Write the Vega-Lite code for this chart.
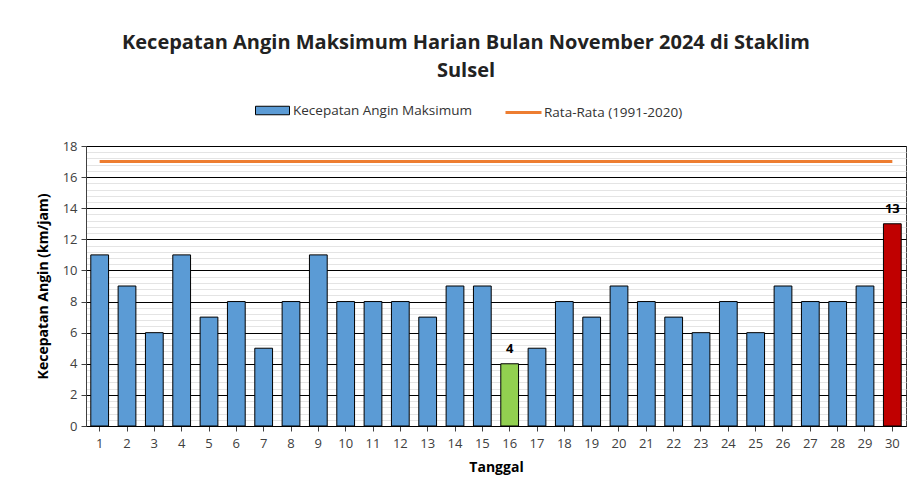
{
  "$schema": "https://vega.github.io/schema/vega-lite/v6.json",
  "width": 820,
  "height": 280,
  "autosize": {"type": "none"},
  "padding": {"left": 86, "top": 146, "right": 6, "bottom": 69},
  "background": "white",
  "config": {
    "view": {"stroke": "#404040", "strokeWidth": 1},
    "font": "Open Sans",
    "axis": {"labelFont": "Open Sans", "titleFont": "Open Sans", "labelColor": "#404040", "titleColor": "#000000"}
  },
  "title": {
    "text": ["Kecepatan Angin Maksimum Harian Bulan November 2024 di Staklim", "Sulsel"],
    "font": "Open Sans",
    "fontSize": 20,
    "fontWeight": "bold",
    "color": "#222222",
    "anchor": "middle",
    "frame": "group",
    "dx": -30,
    "lineHeight": 28,
    "offset": 12
  },
  "data": {
    "values": [
      {"Tanggal": 1, "kecepatan": 11, "rata": 17, "keterangan": "normal"},
      {"Tanggal": 2, "kecepatan": 9, "rata": 17, "keterangan": "normal"},
      {"Tanggal": 3, "kecepatan": 6, "rata": 17, "keterangan": "normal"},
      {"Tanggal": 4, "kecepatan": 11, "rata": 17, "keterangan": "normal"},
      {"Tanggal": 5, "kecepatan": 7, "rata": 17, "keterangan": "normal"},
      {"Tanggal": 6, "kecepatan": 8, "rata": 17, "keterangan": "normal"},
      {"Tanggal": 7, "kecepatan": 5, "rata": 17, "keterangan": "normal"},
      {"Tanggal": 8, "kecepatan": 8, "rata": 17, "keterangan": "normal"},
      {"Tanggal": 9, "kecepatan": 11, "rata": 17, "keterangan": "normal"},
      {"Tanggal": 10, "kecepatan": 8, "rata": 17, "keterangan": "normal"},
      {"Tanggal": 11, "kecepatan": 8, "rata": 17, "keterangan": "normal"},
      {"Tanggal": 12, "kecepatan": 8, "rata": 17, "keterangan": "normal"},
      {"Tanggal": 13, "kecepatan": 7, "rata": 17, "keterangan": "normal"},
      {"Tanggal": 14, "kecepatan": 9, "rata": 17, "keterangan": "normal"},
      {"Tanggal": 15, "kecepatan": 9, "rata": 17, "keterangan": "normal"},
      {"Tanggal": 16, "kecepatan": 4, "rata": 17, "keterangan": "terendah"},
      {"Tanggal": 17, "kecepatan": 5, "rata": 17, "keterangan": "normal"},
      {"Tanggal": 18, "kecepatan": 8, "rata": 17, "keterangan": "normal"},
      {"Tanggal": 19, "kecepatan": 7, "rata": 17, "keterangan": "normal"},
      {"Tanggal": 20, "kecepatan": 9, "rata": 17, "keterangan": "normal"},
      {"Tanggal": 21, "kecepatan": 8, "rata": 17, "keterangan": "normal"},
      {"Tanggal": 22, "kecepatan": 7, "rata": 17, "keterangan": "normal"},
      {"Tanggal": 23, "kecepatan": 6, "rata": 17, "keterangan": "normal"},
      {"Tanggal": 24, "kecepatan": 8, "rata": 17, "keterangan": "normal"},
      {"Tanggal": 25, "kecepatan": 6, "rata": 17, "keterangan": "normal"},
      {"Tanggal": 26, "kecepatan": 9, "rata": 17, "keterangan": "normal"},
      {"Tanggal": 27, "kecepatan": 8, "rata": 17, "keterangan": "normal"},
      {"Tanggal": 28, "kecepatan": 8, "rata": 17, "keterangan": "normal"},
      {"Tanggal": 29, "kecepatan": 9, "rata": 17, "keterangan": "normal"},
      {"Tanggal": 30, "kecepatan": 13, "rata": 17, "keterangan": "tertinggi"}
    ]
  },
  "encoding": {
    "x": {
      "field": "Tanggal",
      "type": "ordinal",
      "scale": {"paddingInner": 0.35, "paddingOuter": 0.175},
      "axis": {
        "title": "Tanggal",
        "titleFontSize": 14,
        "titleFontWeight": "bold",
        "titlePadding": 10,
        "labelAngle": 0,
        "labelFontSize": 13,
        "labelPadding": 6,
        "tickColor": "#404040",
        "tickSize": 5,
        "domainColor": "#000000",
        "grid": false
      }
    }
  },
  "layer": [
    {
      "mark": {"type": "bar", "stroke": "#000000", "strokeWidth": 1},
      "encoding": {
        "y": {
          "field": "kecepatan",
          "type": "quantitative",
          "scale": {"domain": [0, 18], "nice": false},
          "axis": {
            "orient": "left",
            "values": [0, 0.4, 0.8, 1.2, 1.6, 2.4, 2.8, 3.2, 3.6, 4.4, 4.8, 5.2, 5.6, 6.4, 6.8, 7.2, 7.6, 8.4, 8.8, 9.2, 9.6, 10.4, 10.8, 11.2, 11.6, 12.4, 12.8, 13.2, 13.6, 14.4, 14.8, 15.2, 15.6, 16.4, 16.8, 17.2, 17.6],
            "grid": true,
            "gridColor": "#e4e4e4",
            "gridWidth": 1,
            "labels": false,
            "ticks": false,
            "domain": false,
            "title": null
          }
        },
        "fill": {
          "condition": [
            {"test": "datum.keterangan === 'terendah'", "value": "#92D050"},
            {"test": "datum.keterangan === 'tertinggi'", "value": "#C00000"}
          ],
          "datum": "Kecepatan Angin Maksimum",
          "scale": {"range": ["#5B9BD5"]},
          "legend": {
            "orient": "none",
            "legendX": 169,
            "legendY": -53,
            "title": null,
            "symbolType": "M-1,-0.25H1V0.25H-1Z",
            "symbolSize": 1156,
            "symbolStrokeColor": "#000000",
            "symbolStrokeWidth": 1,
            "labelFont": "Open Sans",
            "labelFontSize": 13.5,
            "labelColor": "#333333",
            "labelOffset": 3,
            "labelLimit": 400
          }
        }
      }
    },
    {
      "mark": {"type": "line", "strokeWidth": 3},
      "encoding": {
        "y": {
          "field": "rata",
          "type": "quantitative",
          "axis": {
            "orient": "left",
            "values": [0, 2, 4, 6, 8, 10, 12, 14, 16, 18],
            "grid": true,
            "gridColor": "#000000",
            "gridWidth": 1,
            "domainColor": "#404040",
            "tickColor": "#404040",
            "tickSize": 5,
            "labelFontSize": 13,
            "labelPadding": 4,
            "title": "Kecepatan Angin (km/jam)",
            "titleFontSize": 14,
            "titleFontWeight": "bold",
            "titlePadding": 12
          }
        },
        "stroke": {
          "datum": "Rata-Rata (1991-2020)",
          "scale": {"range": ["#ED7D31"]},
          "legend": {
            "orient": "none",
            "legendX": 418,
            "legendY": -53,
            "title": null,
            "symbolType": "stroke",
            "symbolSize": 1296,
            "symbolStrokeWidth": 3,
            "labelFont": "Open Sans",
            "labelFontSize": 13.5,
            "labelColor": "#333333",
            "labelOffset": 1,
            "labelLimit": 400
          }
        }
      }
    },
    {
      "transform": [{"filter": "datum.keterangan !== 'normal'"}],
      "mark": {"type": "text", "dy": -15, "fontWeight": "bold", "fontSize": 13, "font": "Open Sans", "color": "#000000"},
      "encoding": {
        "y": {"field": "kecepatan", "type": "quantitative", "axis": null},
        "text": {"field": "kecepatan", "type": "quantitative"}
      }
    }
  ],
  "resolve": {"axis": {"y": "independent"}}
}
